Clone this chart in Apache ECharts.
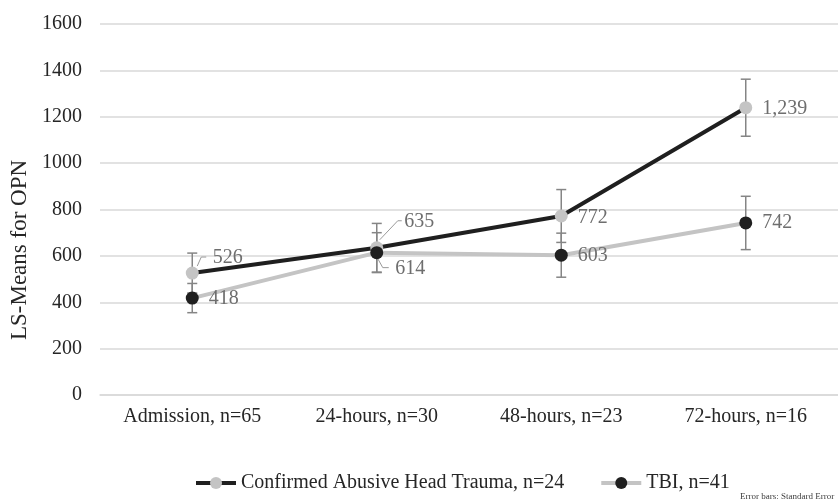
<!DOCTYPE html>
<html>
<head>
<meta charset="utf-8">
<script src="https://cdn.jsdelivr.net/npm/echarts@6/dist/echarts.min.js"></script>
<style>
html,body{margin:0;padding:0;background:#fff;}
#chart{width:838px;height:502px;}
</style>
</head>
<body>
<div id="chart"></div>
<script>
// ---- data ----
var categories = ['Admission, n=65', '24-hours, n=30', '48-hours, n=23', '72-hours, n=16'];
var ahtName = 'Confirmed Abusive Head Trauma, n=24';
var tbiName = 'TBI, n=41';
var ahtMeans = [526, 635, 772, 1239];
var ahtSE = [86, 105, 114, 123];
var tbiMeans = [418, 614, 603, 742];
var tbiSE = [63, 86, 95, 115];
var yTicks = [0, 200, 400, 600, 800, 1000, 1200, 1400, 1600];

// ---- styling (label nudges, leader shapes) ----
var ahtLabelNudge = [[4, -15], [11, -26], [0, 2], [0, 1]];
var tbiLabelNudge = [[0, 1], [2, 16], [0, 1], [0, 0]];
var leaderSpecs = [
  {series: 'aht', i: 0, pts: [[5, -7], [9, -16], [14, -16]]},
  {series: 'aht', i: 1, pts: [[3, -8], [21, -27], [25, -27]]},
  {series: 'tbi', i: 1, pts: [[1, 6], [6, 15], [12, 15]]}
];
var seriesValues = {aht: ahtMeans, tbi: tbiMeans};

var FONT = 'Liberation Serif';
var DARK = '#1f1f1f';
var LIGHT = '#c4c4c4';
var LABEL_GRAY = '#6e6e6e';
var TEXT = '#262626';

function fmt(v) { return v.toLocaleString('en-US'); }

function buildData(vals, nudges) {
  return vals.map(function (v, i) {
    return {value: v, label: {offset: nudges[i]}};
  });
}

function errData(vals, se) {
  return vals.map(function (v, i) { return [i, v - se[i], v + se[i]]; });
}

function renderErr(params, api) {
  var x = api.value(0);
  var lo = api.coord([x, api.value(1)]);
  var hi = api.coord([x, api.value(2)]);
  var hw = 5;
  var st = {stroke: '#858585', lineWidth: 1.5};
  return {
    type: 'group',
    children: [
      {type: 'line', shape: {x1: lo[0], y1: lo[1], x2: hi[0], y2: hi[1]}, style: st},
      {type: 'line', shape: {x1: lo[0] - hw, y1: lo[1], x2: lo[0] + hw, y2: lo[1]}, style: st},
      {type: 'line', shape: {x1: hi[0] - hw, y1: hi[1], x2: hi[0] + hw, y2: hi[1]}, style: st}
    ]
  };
}

var leaderData = leaderSpecs.map(function (s, k) {
  return [s.i, seriesValues[s.series][s.i], k];
});

function renderLeader(params, api) {
  var p = api.coord([api.value(0), api.value(1)]);
  var spec = leaderSpecs[api.value(2)];
  var pts = spec.pts.map(function (d) { return [p[0] + d[0], p[1] + d[1]]; });
  return {
    type: 'polyline',
    shape: {points: pts},
    style: {stroke: '#9a9a9a', lineWidth: 1, fill: null}
  };
}

var chart = echarts.init(document.getElementById('chart'), null, {renderer: 'canvas'});

var labelCommon = {
  show: true,
  position: 'right',
  distance: 10,
  fontFamily: FONT,
  fontSize: 20,
  color: LABEL_GRAY,
  formatter: function (p) { return fmt(p.value); }
};

chart.setOption({
  animation: false,
  backgroundColor: '#ffffff',
  textStyle: {fontFamily: FONT},
  grid: {left: 100, right: 0, top: 24, bottom: 107, containLabel: false},
  xAxis: {
    type: 'category',
    data: categories,
    boundaryGap: true,
    axisLine: {show: true, lineStyle: {color: '#d9d9d9', width: 1.5}},
    axisTick: {show: false},
    axisLabel: {fontFamily: FONT, fontSize: 20, color: TEXT, margin: 12, interval: 0}
  },
  yAxis: {
    type: 'value',
    min: yTicks[0],
    max: yTicks[yTicks.length - 1],
    interval: yTicks[1] - yTicks[0],
    axisLine: {show: false},
    axisTick: {show: false},
    axisLabel: {fontFamily: FONT, fontSize: 20, color: TEXT, margin: 18,
      formatter: function (v) { return String(v); }},
    splitLine: {lineStyle: {color: '#d9d9d9', width: 1.5}}
  },
  legend: {
    data: [ahtName, tbiName],
    left: 189,
    top: 468,
    itemWidth: 40,
    itemHeight: 15,
    itemGap: 35,
    lineStyle: {width: 4},
    textStyle: {fontFamily: FONT, fontSize: 20, color: TEXT}
  },
  graphic: [
    {
      type: 'text',
      x: 20, y: 250,
      rotation: Math.PI / 2,
      style: {text: 'LS-Means for OPN', fontFamily: FONT, fontSize: 23, fill: TEXT, align: 'center', verticalAlign: 'middle'}
    },
    {
      type: 'text',
      x: 740, y: 497,
      style: {text: 'Error bars: Standard Error', fontFamily: FONT, fontSize: 9, fill: '#404040', align: 'left', verticalAlign: 'middle'}
    }
  ],
  series: [
    {
      name: 'errAHT', type: 'custom', renderItem: renderErr, data: errData(ahtMeans, ahtSE),
      z: 1, silent: true, encode: {x: 0, y: [1, 2]}
    },
    {
      name: 'errTBI', type: 'custom', renderItem: renderErr, data: errData(tbiMeans, tbiSE),
      z: 1, silent: true, encode: {x: 0, y: [1, 2]}
    },
    {
      name: 'leaders', type: 'custom', renderItem: renderLeader, data: leaderData,
      z: 1, silent: true, encode: {x: 0, y: 1}
    },
    {
      name: ahtName,
      type: 'line',
      data: buildData(ahtMeans, ahtLabelNudge),
      symbol: 'circle',
      symbolSize: 13,
      z: 3,
      lineStyle: {color: DARK, width: 4},
      itemStyle: {color: LIGHT},
      label: labelCommon
    },
    {
      name: tbiName,
      type: 'line',
      data: buildData(tbiMeans, tbiLabelNudge),
      symbol: 'circle',
      symbolSize: 13,
      z: 4,
      lineStyle: {color: LIGHT, width: 4},
      itemStyle: {color: DARK},
      label: labelCommon
    }
  ]
});
</script>
</body>
</html>
